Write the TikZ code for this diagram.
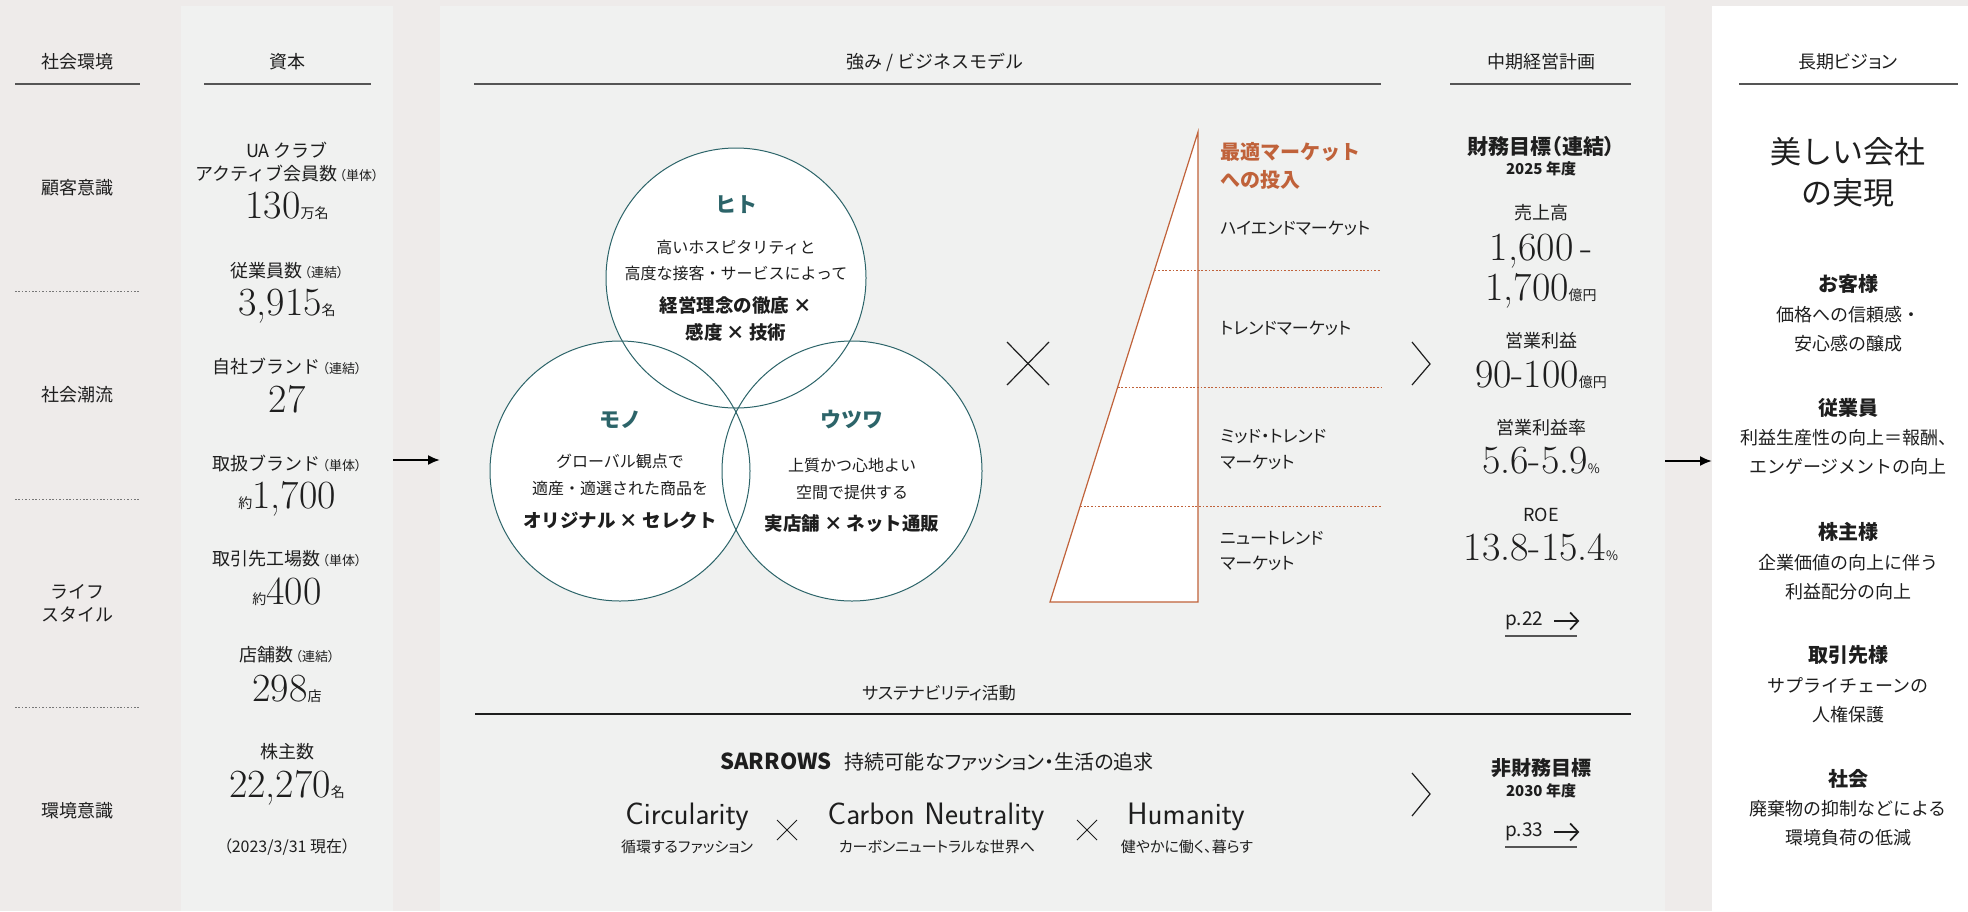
\documentclass[tikz,border=0pt]{standalone}
\usepackage{fontspec}
\newfontfamily\jp{Noto Sans CJK JP}
\newfontfamily\jpp[RawFeature=+palt]{Noto Sans CJK JP}
\usetikzlibrary{arrows.meta}
\definecolor{bgw}{HTML}{EEEBEA}
\definecolor{pan}{HTML}{F0F1F0}
\definecolor{ink}{HTML}{1E1E1E}
\definecolor{tealc}{HTML}{2C6469}
\definecolor{orng}{HTML}{C0623A}
\definecolor{rulec}{HTML}{555555}
\newcommand\fz[1]{\fontsize{#1}{#1}\selectfont}
\newcommand\sfx[1]{\hspace{2pt}{\jpp\fz{13}#1}}
\begin{document}
\begin{tikzpicture}[x=1pt,y=-1pt,
  t/.style={inner sep=0pt, text=ink, font=\jp\fz{18}},
  t14/.style={t, font=\jpp\fz{15}},
  t16/.style={t, font=\jp\fz{16}},
  tb/.style={t, font=\jp\bfseries\fz{20}},
  tb15/.style={t, font=\jp\bfseries\fz{15}},
  vb/.style={t, font=\jp\bfseries\fz{18.5}},
  vt/.style={t, font=\jp\bfseries\fz{21}, text=tealc},
  tri/.style={t, font=\jpp\fz{17}, anchor=west},
  num/.style={inner sep=0pt, text=ink, anchor=base, font=\rmfamily\fz{40}},
  eng/.style={inner sep=0pt, text=ink, anchor=base, font=\sffamily\fz{31}},
  hrule/.style={draw=rulec, line width=1.5pt},
  dotl/.style={draw=rulec!80, line width=0.9pt, dash pattern=on 1.6pt off 1.8pt},
  odot/.style={draw=orng, line width=1pt, dash pattern=on 1.8pt off 1.8pt},
  circ/.style={draw=tealc, line width=1pt},
  arr/.style={draw=black, line width=2pt, -{Latex[length=12pt,width=10pt]}},
  parr/.style={draw=ink, line width=1.7pt, -{Straight Barb[length=8pt,width=17pt]}},
  thin/.style={draw=ink, line width=1.2pt}
]
\useasboundingbox (0,0) rectangle (1968,911);
% backgrounds
\fill[bgw] (0,0) rectangle (1968,911);
\fill[pan] (181,6) rectangle (393,911);
\fill[pan] (440,6) rectangle (1665,911);
\fill[white] (1712,6) rectangle (1968,911);

% ---------- left column: 社会環境
\node[t] (hEnv) at (77,62) {社会環境};
\draw[hrule] (15,84) -- (140,84);
\node[t] (e1) at (77,188) {顧客意識};
\draw[dotl] (15,291) -- (140,291);
\node[t] (e2) at (77,395) {社会潮流};
\draw[dotl] (15,499) -- (140,499);
\node[t] (e3a) at (77,592) {ライフ};
\node[t] (e3b) at (77,615) {スタイル};
\draw[dotl] (15,707) -- (140,707);
\node[t] (e4) at (77,811) {環境意識};

% ---------- 資本
\node[t] (hCap) at (287,62) {資本};
\draw[hrule] (204,84) -- (371,84);
\node[t] (c1a) at (287,150) {UA クラブ};
\node[t] (c1b) at (287,174) {アクティブ会員数\sfx{（単体）}};
\node[num] (c1n) at (287,218) {130{\jp\fz{14}万名}};
\node[t] (c2a) at (287,271) {従業員数\sfx{（連結）}};
\node[num] (c2n) at (287,315) {3,915{\jp\fz{14}名}};
\node[t] (c3a) at (287,367) {自社ブランド\sfx{（連結）}};
\node[num] (c3n) at (287,412) {27};
\node[t] (c4a) at (287,464) {取扱ブランド\sfx{（単体）}};
\node[num] (c4n) at (287,508) {{\jp\fz{14}約}1,700};
\node[t] (c5a) at (287,559) {取引先工場数\sfx{（単体）}};
\node[num] (c5n) at (287,604) {{\jp\fz{14}約}400};
\node[t] (c6a) at (287,655) {店舗数\sfx{（連結）}};
\node[num] (c6n) at (287,701) {298{\jp\fz{14}店}};
\node[t] (c7a) at (287,752) {株主数};
\node[num] (c7n) at (287,797) {22,270{\jp\fz{14}名}};
\node[t, font=\jpp\fz{16}] (c8) at (287,847) {（2023/3/31 現在）};

% arrows between panels
\coordinate (a1s) at (393,460);
\coordinate (a1e) at (440,460);
\draw[arr] (a1s) -- (a1e);
\coordinate (a2s) at (1665,461);
\coordinate (a2e) at (1712,461);
\draw[arr] (a2s) -- (a2e);

% ---------- 強み / ビジネスモデル
\node[t] (hBiz) at (935,62) {強み / ビジネスモデル};
\draw[hrule] (474,84) -- (1381,84);

% Venn
\fill[white] (736,278) circle (130);
\fill[white] (620,471) circle (130);
\fill[white] (852,471) circle (130);
\draw[circ] (736,278) circle (130);
\draw[circ] (620,471) circle (130);
\draw[circ] (852,471) circle (130);

\node[vt] (hito) at (736,205) {ヒト};
\node[t16] (h1) at (736,247) {高いホスピタリティと};
\node[t16] (h2) at (736,273) {高度な接客・サービスによって};
\node[vb] (h3) at (736,305) {経営理念の徹底 ×};
\node[vb] (h4) at (736,332) {感度 × 技術};

\node[vt] (mono) at (620,420) {モノ};
\node[t16] (m1) at (620,461) {グローバル観点で};
\node[t16] (m2) at (620,488) {適産・適選された商品を};
\node[vb] (m3) at (620,520) {オリジナル × セレクト};

\node[vt] (utsu) at (852,420) {ウツワ};
\node[t16] (u1) at (852,465) {上質かつ心地よい};
\node[t16] (u2) at (852,492) {空間で提供する};
\node[vb] (u3) at (852,524) {実店舗 × ネット通販};

% big cross
\draw[thin] (1007,342) -- (1049,385);
\draw[thin] (1007,385) -- (1049,342);

% triangle
\filldraw[fill=white, draw=orng, line width=1.2pt] (1198,132) -- (1198,602) -- (1050,602) -- cycle;
\draw[odot] (1154.5,270) -- (1381,270);
\draw[odot] (1117.7,387) -- (1381,387);
\draw[odot] (1080.2,506) -- (1381,506);
\node[tb, anchor=west, text=orng] (opt1) at (1220,152) {最適マーケット};
\node[tb, anchor=west, text=orng] (opt2) at (1220,180) {への投入};
\node[tri] (mk1) at (1220,228) {ハイエンドマーケット};
\node[tri] (mk2) at (1220,328) {トレンドマーケット};
\node[tri] (mk3a) at (1220,437) {ミッド・トレンド};
\node[tri] (mk3b) at (1220,462) {マーケット};
\node[tri] (mk4a) at (1220,538) {ニュートレンド};
\node[tri] (mk4b) at (1220,563) {マーケット};

% chevrons
\draw[thin, line join=miter] (1412,342) -- (1430,364) -- (1412,385);
\draw[thin, line join=miter] (1412,773) -- (1430,794) -- (1412,816);

% ---------- 中期経営計画
\node[t] (hMid) at (1541,62) {中期経営計画};
\draw[hrule] (1450,84) -- (1631,84);
\node[tb, font=\jpp\bfseries\fz{21}] (f1) at (1541,147) {財務目標（連結）};
\node[tb15] (f2) at (1541,169) {2025 年度};
\node[t] (f3) at (1541,213) {売上高};
\node[num] (f3n) at (1541,260) {1,600\,-};
\node[num] (f3m) at (1541,300) {1,700{\jp\fz{14}億円}};
\node[t] (f4) at (1541,341) {営業利益};
\node[num] (f4n) at (1541,387) {90-100{\jp\fz{14}億円}};
\node[t] (f5) at (1541,428) {営業利益率};
\node[num] (f5n) at (1541,473) {5.6-5.9{\jp\fz{13}\%}};
\node[t] (f6) at (1541,515) {ROE};
\node[num] (f6n) at (1541,560) {13.8-15.4{\jp\fz{13}\%}};
\node[t, anchor=west, font=\jp\fz{19}] (p22) at (1505,621) {p.22};
\draw[parr] ([xshift=11pt]p22.east) -- ([xshift=36pt]p22.east);
\draw[draw=rulec, line width=1.5pt] (1505,636) -- (1577,636);

\node[tb] (nf1) at (1541,768) {非財務目標};
\node[tb15] (nf2) at (1541,791) {2030 年度};
\node[t, anchor=west, font=\jp\fz{19}] (p33) at (1505,832) {p.33};
\draw[parr] ([xshift=11pt]p33.east) -- ([xshift=36pt]p33.east);
\draw[draw=rulec, line width=1.5pt] (1505,847) -- (1577,847);

% ---------- サステナビリティ
\node[t, font=\jpp\fz{17}] (hSus) at (939,693) {サステナビリティ活動};
\draw[draw=ink, line width=1.5pt] (475,714) -- (1631,714);
\node[t] (sar) at (937,762) {{\bfseries\fz{22}SARROWS}\hspace{13pt}{\jpp\fz{20}持続可能なファッション・生活の追求}};
\node[eng] (circ) at (687,824) {Circularity};
\node[t14] (circj) at (687,847) {循環するファッション};
\draw[draw=ink, line width=1pt] (777,820) -- (797,840);
\draw[draw=ink, line width=1pt] (777,840) -- (797,820);
\node[eng] (carb) at (936,824) {Carbon Neutrality};
\node[t14] (carbj) at (937,847) {カーボンニュートラルな世界へ};
\draw[draw=ink, line width=1pt] (1077,820) -- (1097,840);
\draw[draw=ink, line width=1pt] (1077,840) -- (1097,820);
\node[eng] (hum) at (1186,824) {Humanity};
\node[t14] (humj) at (1187,847) {健やかに働く、暮らす};

% ---------- 長期ビジョン
\node[t, font=\jpp\fz{18}] (hLong) at (1848,62) {長期ビジョン};
\draw[hrule] (1739,84) -- (1958,84);
\node[t, font=\jp\fz{31}] (v1) at (1848,152) {美しい会社};
\node[t, font=\jp\fz{31}] (v2) at (1848,193) {の実現};
\node[tb] (s1) at (1848,284) {お客様};
\node[t] (s1a) at (1848,315) {価格への信頼感・};
\node[t] (s1b) at (1848,344) {安心感の醸成};
\node[tb] (s2) at (1848,408) {従業員};
\node[t] (s2a) at (1848,438) {利益生産性の向上＝報酬、};
\node[t] (s2b) at (1848,467) {エンゲージメントの向上};
\node[tb] (s3) at (1848,532) {株主様};
\node[t] (s3a) at (1848,563) {企業価値の向上に伴う};
\node[t] (s3b) at (1848,592) {利益配分の向上};
\node[tb] (s4) at (1848,655) {取引先様};
\node[t] (s4a) at (1848,685) {サプライチェーンの};
\node[t] (s4b) at (1848,715) {人権保護};
\node[tb] (s5) at (1848,779) {社会};
\node[t] (s5a) at (1848,809) {廃棄物の抑制などによる};
\node[t] (s5b) at (1848,838) {環境負荷の低減};
\end{tikzpicture}
\end{document}
